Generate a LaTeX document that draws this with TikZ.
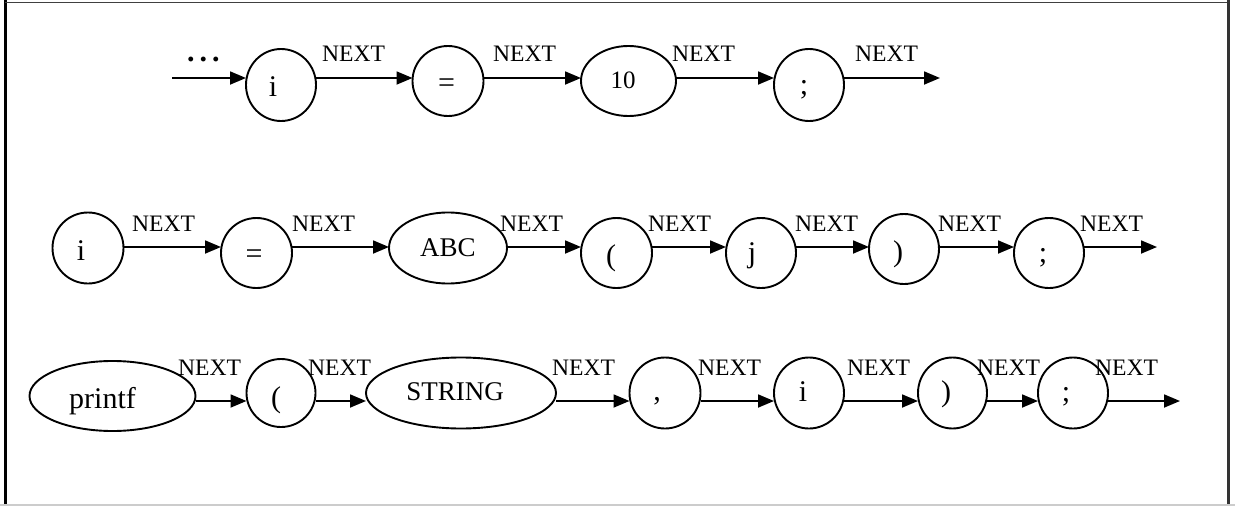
\documentclass[tikz,border=0pt]{standalone}
\usepackage{fontspec}
\setmainfont{Liberation Serif}
\usetikzlibrary{shapes.geometric,arrows.meta}
\newcommand\tx[2][12pt]{#2\hspace*{#1}}
\begin{document}
\begin{tikzpicture}[x=1pt,y=-1pt,
  tok/.style={draw, ellipse, line width=1.9pt, inner sep=0pt, outer sep=0pt,
    minimum width=70pt, minimum height=70pt,
    font=\fontsize{30}{34}\selectfont, text depth=0pt},
  bl/.style={text height=#1},
  lbl/.style={anchor=base west, inner sep=0pt, font=\fontsize{23.6}{28}\selectfont},
  arr/.style={line width=1.8pt, -{Triangle[length=16pt,width=13pt]}},
  frameline/.style={line cap=butt}]
\useasboundingbox (0,0) rectangle (1235,506);
% frame
\draw[frameline, line width=3pt] (5,0) -- (5,506);
\draw[frameline, line width=1.7pt, black!75] (5,2.5) -- (1228.7,2.5);
\draw[frameline, line width=2.5pt, black!80] (1228.7,0) -- (1228.7,506);
\draw[frameline, line width=1.5pt, black!20] (0,505) -- (1235,505);
% row coordinates
\coordinate (r1) at (0,78);
\coordinate (r2) at (0,247);
\coordinate (r3) at (0,401);
\coordinate (s1) at (172,78);
\coordinate (e1) at (940,78);
\coordinate (e2) at (1157,247);
\coordinate (e3) at (1180,401);
% row 1
\node[lbl, font=\fontsize{30}{34}\selectfont\bfseries] (dots) at (187,61) {.\hspace{5pt}.\hspace{5pt}.};
\node[tok, bl=23.4pt, minimum height=72pt] (a1) at (281,85) {\tx[16pt]{i}};
\node[tok, bl=22pt, minimum width=71pt] (a2) at (448,81) {\tx[3pt]{=}};
\node[tok, bl=14.6pt, minimum width=95pt, font=\fontsize{25}{29}\selectfont] (a3) at (628.5,81) {\tx[11pt]{10}};
\node[tok, bl=19pt, minimum height=72pt] (a4) at (809,85) {\tx[10pt]{;}};
\draw[arr] (s1) -- (a1.west |- r1);
\draw[arr] (a1.east |- r1) -- (a2.west |- r1);
\draw[arr] (a2.east |- r1) -- (a3.west |- r1);
\draw[arr] (a3.east |- r1) -- (a4.west |- r1);
\draw[arr] (a4.east |- r1) -- (e1);
\node[lbl] (n11) at (322,61.7) {NEXT};
\node[lbl] (n12) at (493,61.7) {NEXT};
\node[lbl] (n13) at (672,61.7) {NEXT};
\node[lbl] (n14) at (855,61.7) {NEXT};
% row 2
\node[tok, bl=24pt, minimum width=71pt, minimum height=71pt] (b1) at (88,248) {\tx[14pt]{i}};
\node[tok, bl=20pt, minimum width=71pt] (b2) at (256.5,253) {\tx[5pt]{=}};
\node[tok, bl=17.4pt, minimum width=118pt, minimum height=71pt, font=\fontsize{27}{31}\selectfont] (b3) at (448,248) {\tx[0pt]{ABC}};
\node[tok, bl=24.6pt, minimum width=71pt] (b4) at (616.5,253) {\tx[11pt]{(}};
\node[tok, bl=19pt] (b5) at (761,253) {\tx[18pt]{j}};
\node[tok, bl=25.6pt] (b6) at (904,249) {\tx[12pt]{)}};
\node[tok, bl=19pt] (b7) at (1049,253) {\tx[12pt]{;}};
\draw[arr] (b1.east |- r2) -- (b2.west |- r2);
\draw[arr] (b2.east |- r2) -- (b3.west |- r2);
\draw[arr] (b3.east |- r2) -- (b4.west |- r2);
\draw[arr] (b4.east |- r2) -- (b5.west |- r2);
\draw[arr] (b5.east |- r2) -- (b6.west |- r2);
\draw[arr] (b6.east |- r2) -- (b7.west |- r2);
\draw[arr] (b7.east |- r2) -- (e2);
\node[lbl] (n21) at (132,231.7) {NEXT};
\node[lbl] (n22) at (292,231.7) {NEXT};
\node[lbl] (n23) at (500,231.7) {NEXT};
\node[lbl] (n24) at (648,231.7) {NEXT};
\node[lbl] (n25) at (795,231.7) {NEXT};
\node[lbl] (n26) at (938,231.7) {NEXT};
\node[lbl] (n27) at (1080,231.7) {NEXT};
% row 3
\node[tok, bl=25.4pt, minimum width=166pt, font=\fontsize{30}{34}\selectfont] (c1) at (112.5,396) {\tx[20pt]{printf}};
\node[tok, bl=28pt, minimum width=69pt, minimum height=68pt] (c2) at (281,393) {\tx[10pt]{(}};
\node[tok, bl=14pt, minimum width=190pt, minimum height=71pt, font=\fontsize{27}{31}\selectfont] (c3) at (461,393) {\tx[12pt]{STRING}};
\node[tok, bl=15.2pt, minimum width=71pt, minimum height=71pt] (c4) at (665,393) {\tx[16pt]{,}};
\node[tok, bl=17.4pt, minimum height=71pt] (c5) at (809,393) {\tx[12pt]{i}};
\node[tok, bl=17.6pt, minimum width=69pt, minimum height=71pt] (c6) at (952.5,393) {\tx[13pt]{)}};
\node[tok, bl=16pt, minimum height=71pt] (c7) at (1073,393) {\tx[14pt]{;}};
\draw[arr] (c1.east |- r3) -- (c2.west |- r3);
\draw[arr] (c2.east |- r3) -- (c3.west |- r3);
\draw[arr] (c3.east |- r3) -- (c4.west |- r3);
\draw[arr] (c4.east |- r3) -- (c5.west |- r3);
\draw[arr] (c5.east |- r3) -- (c6.west |- r3);
\draw[arr] (c6.east |- r3) -- (c7.west |- r3);
\draw[arr] (c7.east |- r3) -- (e3);
\node[lbl] (n31) at (178,375) {NEXT};
\node[lbl] (n32) at (308,375) {NEXT};
\node[lbl] (n33) at (552,375) {NEXT};
\node[lbl] (n34) at (698,375) {NEXT};
\node[lbl] (n35) at (847,375) {NEXT};
\node[lbl] (n36) at (977,375) {NEXT};
\node[lbl] (n37) at (1095,375) {NEXT};
\end{tikzpicture}
\end{document}
